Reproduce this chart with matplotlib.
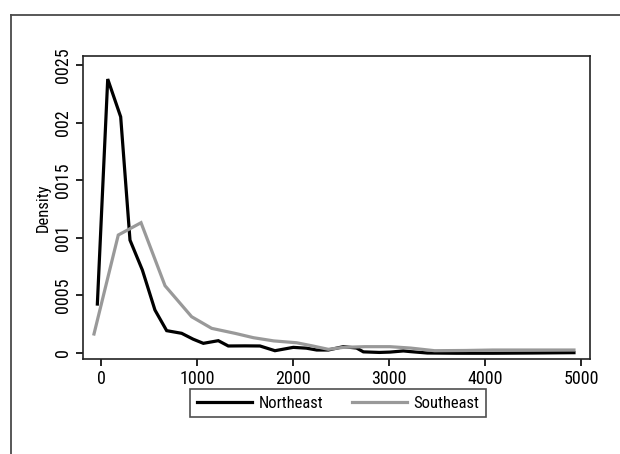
import matplotlib
matplotlib.use("Agg")
import matplotlib.pyplot as plt
from matplotlib import font_manager
from matplotlib.lines import Line2D

# ---- data ----
ne_x = [-38, 70, 205, 302, 431, 562, 684, 840, 960, 1066, 1222, 1326, 1500, 1656, 1812,
        2003, 2140, 2247, 2368, 2524, 2663, 2733, 2900, 3010, 3150, 3224, 3400, 3700, 4083, 4500, 4927]
ne_y = [0.000425, 0.002378, 0.00205, 0.00098, 0.00072, 0.000373, 0.000194, 0.000171, 0.00012,
        0.000084, 0.000107, 0.000061, 0.000062, 0.000061, 0.00002, 0.000049, 0.000042, 0.000026,
        0.000026, 0.000055, 0.000043, 0.00001, 0.000005, 0.000008, 0.000018, 0.000012,
        0.0, -0.000002, -0.000002, 0.0, 0.000003]
se_x = [-73, 180, 417, 667, 944, 1153, 1400, 1587, 1800, 2038, 2200, 2368, 2524, 2750,
        3010, 3224, 3476, 3800, 4083, 4500, 4927]
se_y = [0.000165, 0.001024, 0.001131, 0.000584, 0.000315, 0.000214, 0.000170, 0.000133,
        0.000105, 0.000089, 0.000062, 0.000032, 0.000049, 0.000055, 0.000055, 0.000043,
        0.00002, 0.000022, 0.000026, 0.000026, 0.000026]
series_names = ["Northeast", "Southeast"]
xticks = [0, 1000, 2000, 3000, 4000, 5000]
yticks = [0, 0.0005, 0.001, 0.0015, 0.002, 0.0025]
ytick_labels = ["0", "0005", "001", "0015", "002", "0025"]

# ---- font ----
avail = {f.name for f in font_manager.fontManager.ttflist}
prefs = ["Nimbus Sans Narrow", "Liberation Sans Narrow", "Arial Narrow", "Roboto Condensed",
         "Archivo Narrow", "PT Sans Narrow", "Fira Sans Condensed", "Liberation Sans"]
fam = next(p for p in prefs if p in avail)
plt.rcParams["font.family"] = [fam, "DejaVu Sans"]

W, H = 620, 454
fig = plt.figure(figsize=(W / 100, H / 100), dpi=100)
fig.patch.set_facecolor("white")

# outer frame (partially cropped)
fig.add_artist(Line2D([10.5 / W, 1.0], [1 - 14.5 / H, 1 - 14.5 / H], color="#4a4a4a", lw=1.3,
                      transform=fig.transFigure))
fig.add_artist(Line2D([10.5 / W, 10.5 / W], [0, 1 - 14.5 / H], color="#4a4a4a", lw=1.3,
                      transform=fig.transFigure))

ax = fig.add_axes([83 / W, (H - 359) / H, (590 - 83) / W, (359 - 56) / H])
ax.plot(ne_x, ne_y, color="black", lw=2.3, label=series_names[0], solid_joinstyle="miter")
ax.plot(se_x, se_y, color="#999999", lw=2.3, label=series_names[1], solid_joinstyle="miter")

ax.set_xlim(-187.5, 5094)
ax.set_ylim(-5.2e-5, 0.002578)
ax.set_xticks(xticks)
ax.set_xticklabels([str(t) for t in xticks])
ax.set_yticks(yticks)
ax.set_yticklabels(ytick_labels, rotation=90, va="center")
ax.tick_params(direction="out", length=5, width=1.2, labelsize=13, pad=3)
for s in ax.spines.values():
    s.set_linewidth(1.2)
    s.set_color("#222222")
ax.set_ylabel("Density", fontsize=12, labelpad=2)

leg = fig.legend(loc="center", bbox_to_anchor=(338 / W, (H - 403) / H), ncol=2,
                 fontsize=12, frameon=True, fancybox=False, edgecolor="#222222",
                 handlelength=3.3, handletextpad=0.4, columnspacing=1.7,
                 borderpad=0.4, borderaxespad=0)
leg.get_frame().set_linewidth(1.2)

fig.savefig("out.png", dpi=100, facecolor="white")
